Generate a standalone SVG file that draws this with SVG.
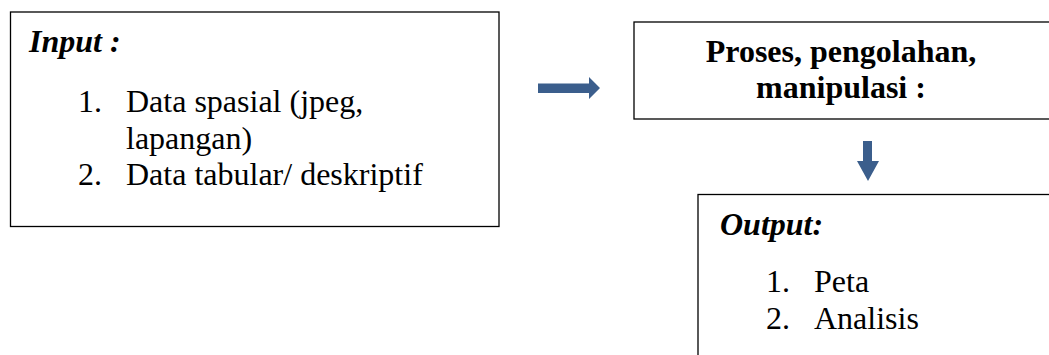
<svg xmlns="http://www.w3.org/2000/svg" width="1049" height="355" viewBox="0 0 1049 355">
<style>
.box{fill:#fff;stroke:#000;stroke-width:1.3}
.t{font-family:"Liberation Serif","Times New Roman",serif;font-size:32px;fill:#000}
.bi{font-weight:bold;font-style:italic}
.b{font-weight:bold}
.arr{fill:#3B5E8C}
</style>
<rect width="1049" height="355" fill="#fff"/>
<g id="input">
<rect class="box" x="10.5" y="12" width="488.5" height="214.5"/>
<text class="t bi" x="29" y="51.5">Input :</text>
<text class="t" x="78" y="112">1.</text>
<text class="t" x="126" y="112">Data spasial (jpeg,</text>
<text class="t" x="126" y="148.5">lapangan)</text>
<text class="t" x="78" y="185">2.</text>
<text class="t" x="126" y="185">Data tabular/ deskriptif</text>
</g>
<g id="proses">
<rect class="box" x="634" y="22" width="430" height="97"/>
<text class="t b" x="841" y="62" text-anchor="middle">Proses, pengolahan,</text>
<text class="t b" x="841" y="98" text-anchor="middle">manipulasi :</text>
</g>
<g id="output">
<rect class="box" x="698" y="194.5" width="370" height="180"/>
<text class="t bi" x="720" y="235">Output:</text>
<text class="t" x="766" y="292">1.</text>
<text class="t" x="814" y="292">Peta</text>
<text class="t" x="766" y="328.5">2.</text>
<text class="t" x="814" y="328.5">Analisis</text>
</g>
<g id="connectors">
<polygon class="arr" points="538,83.5 589,83.5 589,77 600,88 589,99 589,93 538,93"/>
<polygon class="arr" points="863,141 872,141 872,161 879,161 868,181 857,161 863,161"/>
</g>
</svg>
